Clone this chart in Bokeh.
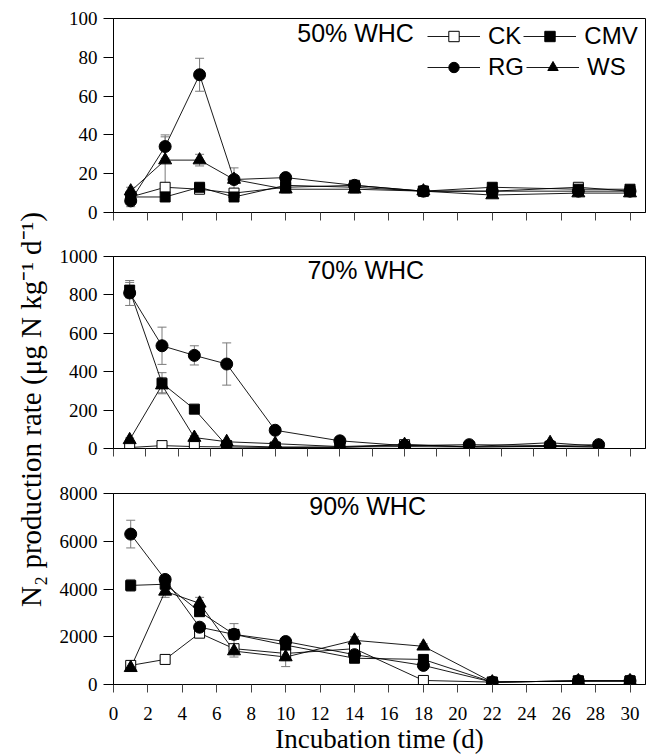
import math
from bokeh.plotting import figure
from bokeh.models import (ColumnDataSource, Range1d, Whisker, TeeHead, Label,
                          Legend, LegendItem, FixedTicker)
from bokeh.layouts import row, column
from bokeh.embed import file_html
from bokeh.resources import INLINE

# ---------------- data ----------------
days = [1, 3, 5, 7, 10, 14, 18, 22, 27, 30]
treatments = ["CK", "CMV", "RG", "WS"]

# 50% WHC
ck_50 = [8, 13, 12, 10, 13, 14, 11, 11, 13, 11]
cmv_50 = [8, 8, 13, 8, 14, 13, 11, 13, 12, 12]
rg_50 = [6, 34, 71, 17, 18, 14, 11, 11, 11, 11]
ws_50 = [11, 27, 27, 17, 12, 12, 11, 9, 10, 10]
ck_50_err = [1, 1, 1, 2, 1, 1, 1, 1, 1, 1]
cmv_50_err = [1, 1, 1, 1, 1, 1, 1, 1, 1, 1]
rg_50_err = [3, 6, 8.5, 6, 1, 1, 1, 1, 1, 1]
ws_50_err = [2, 12, 3, 2, 2, 2, 1, 1, 1, 1]

# 70% WHC
ck_70 = [5, 15, 10, 8, 5, 5, 20, 8, 10, 8]
cmv_70 = [825, 340, 205, 15, 8, 8, 10, 8, 12, 8]
rg_70 = [810, 535, 485, 440, 95, 40, 15, 20, 15, 20]
ws_70 = [45, 330, 57, 35, 25, 10, 20, 10, 30, 12]
ck_70_err = [5, 10, 5, 3, 2, 2, 5, 2, 2, 2]
cmv_70_err = [40, 55, 10, 5, 3, 3, 3, 3, 3, 3]
rg_70_err = [65, 97, 50, 110, 5, 5, 3, 3, 3, 3]
ws_70_err = [10, 40, 10, 5, 5, 3, 3, 3, 5, 3]

# 90% WHC
ck_90 = [800, 1050, 2150, 1500, 1300, 1500, 170, 100, 150, 150]
cmv_90 = [4150, 4200, 3050, 2100, 1650, 1100, 1050, 100, 150, 150]
rg_90 = [6300, 4400, 2400, 2100, 1800, 1250, 800, 100, 150, 150]
ws_90 = [700, 3900, 3400, 1400, 1150, 1850, 1600, 100, 150, 150]
ck_90_err = [100, 120, 150, 150, 550, 150, 80, 30, 30, 30]
cmv_90_err = [250, 150, 150, 150, 150, 150, 100, 30, 30, 30]
rg_90_err = [580, 150, 150, 450, 150, 150, 100, 30, 30, 30]
ws_90_err = [150, 250, 250, 250, 150, 150, 100, 30, 30, 30]

x_ticks_30 = list(range(0, 31, 2))
x_ticks_32 = list(range(0, 33, 2))
x_tick_labels = [str(t) for t in x_ticks_30]
y_ticks_50 = [0, 20, 40, 60, 80, 100]
y_ticks_70 = [0, 200, 400, 600, 800, 1000]
y_ticks_90 = [0, 2000, 4000, 6000, 8000]

panel_titles = ["50% WHC", "70% WHC", "90% WHC"]
y_title = "N\u2082 production rate (\u03bcg N kg\u207b\u00b9 d\u207b\u00b9)"
x_title = "Incubation time (d)"

# ---------------- styles ----------------
SERIF = "Liberation Serif"
SANS = "Liberation Sans"
styles = {
    "CK": dict(marker="square", size=10, fill_color="white", line_color="black", line_width=1),
    "CMV": dict(marker="square", size=10, fill_color="black", line_color="black", line_width=1),
    "RG": dict(marker="circle", size=12, fill_color="black", line_color="black", line_width=1),
    "WS": dict(marker="triangle", size=13, fill_color="black", line_color="black", line_width=1),
}
ERR_COLOR = "#7a7a7a"


def make_panel(h, b_top, b_bottom, x_end, x_ticks, y_end, y_ticks, series, errors,
               title, title_xy, show_x_labels):
    p = figure(width=593, height=h, x_range=Range1d(0, x_end), y_range=Range1d(0, y_end),
               toolbar_location=None, output_backend="svg",
               min_border_left=60, min_border_right=1,
               min_border_top=b_top, min_border_bottom=b_bottom)
    p.grid.grid_line_color = None
    p.outline_line_color = "black"
    p.outline_line_width = 1
    p.background_fill_color = "white"
    p.border_fill_color = "white"

    # axes
    p.yaxis.ticker = FixedTicker(ticks=y_ticks)
    p.yaxis.minor_tick_line_color = None
    p.yaxis.major_tick_in = 0
    p.yaxis.major_tick_out = 10
    p.yaxis.major_label_standoff = 6
    p.yaxis.major_label_text_font = SERIF
    p.yaxis.major_label_text_font_size = "19px"
    p.yaxis.major_label_text_color = "black"
    p.yaxis.axis_line_color = "black"
    p.yaxis.major_tick_line_color = "black"

    p.xaxis.ticker = FixedTicker(ticks=x_ticks)
    p.xaxis.minor_tick_line_color = None
    p.xaxis.major_tick_in = 0
    p.xaxis.major_tick_out = 8
    p.xaxis.axis_line_color = "black"
    p.xaxis.major_tick_line_color = "#444444"
    if show_x_labels:
        p.xaxis.major_label_overrides = {t: lab for t, lab in zip(x_ticks, x_tick_labels)}
        p.xaxis.major_label_text_font = SERIF
        p.xaxis.major_label_text_font_size = "19px"
        p.xaxis.major_label_text_color = "black"
        p.xaxis.major_label_standoff = 14
        p.xaxis.axis_label = x_title
        p.xaxis.axis_label_text_font = SERIF
        p.xaxis.axis_label_text_font_size = "27px"
        p.xaxis.axis_label_text_font_style = "normal"
        p.xaxis.axis_label_text_color = "black"
        p.xaxis.axis_label_standoff = 1
    else:
        p.xaxis.major_label_overrides = {t: "" for t in x_ticks}
        p.xaxis.major_label_text_font_size = "1px"
        p.xaxis.major_label_standoff = 0

    # error bars
    for name in treatments:
        xs, up, lo = [], [], []
        for d, v, e in zip(days, series[name], errors[name]):
            if e > 0:
                xs.append(d)
                up.append(v + e)
                lo.append(v - e)
        src = ColumnDataSource(dict(x=xs, upper=up, lower=lo))
        w = Whisker(base="x", upper="upper", lower="lower", source=src,
                    line_color=ERR_COLOR, line_width=1,
                    upper_head=TeeHead(size=9, line_color=ERR_COLOR, line_width=1),
                    lower_head=TeeHead(size=9, line_color=ERR_COLOR, line_width=1))
        p.add_layout(w)

    lines, marks = {}, {}
    for name in treatments:
        lines[name] = p.line(days, series[name], line_color="black", line_width=0.9)
    for name in treatments:
        marks[name] = p.scatter(days, series[name], **styles[name])

    p.add_layout(Label(x=title_xy[0], y=title_xy[1], text=title, text_align="center",
                       text_baseline="middle", text_font=SANS, text_font_size="25px",
                       text_color="black"))
    return p, lines, marks


p1, l1, m1 = make_panel(235, 18, 23, 30.9, x_ticks_30, 100, y_ticks_50,
                        {"CK": ck_50, "CMV": cmv_50, "RG": rg_50, "WS": ws_50},
                        {"CK": ck_50_err, "CMV": cmv_50_err, "RG": rg_50_err, "WS": ws_50_err},
                        panel_titles[0], (14.06, 92.5), False)
p2, _, _ = make_panel(237, 21, 24, 32.9, x_ticks_32, 1000, y_ticks_70,
                      {"CK": ck_70, "CMV": cmv_70, "RG": rg_70, "WS": ws_70},
                      {"CK": ck_70_err, "CMV": cmv_70_err, "RG": rg_70_err, "WS": ws_70_err},
                      panel_titles[1], (15.6, 932), False)
p3, _, _ = make_panel(284, 21, 72, 30.9, x_ticks_30, 8000, y_ticks_90,
                      {"CK": ck_90, "CMV": cmv_90, "RG": rg_90, "WS": ws_90},
                      {"CK": ck_90_err, "CMV": cmv_90_err, "RG": rg_90_err, "WS": ws_90_err},
                      panel_titles[2], (14.76, 7486), True)

# legend (two rows) in the top panel
def make_legend(names, loc):
    items = [LegendItem(label=n, renderers=[l1[n], m1[n]]) for n in names]
    leg = Legend(items=items, orientation="horizontal", location=loc,
                 glyph_width=53, glyph_height=26, label_standoff=8, spacing=2,
                 padding=0, margin=0, border_line_color=None,
                 background_fill_alpha=0, label_text_font=SANS,
                 label_text_font_size="24px", label_text_color="black",
                 label_height=26)
    return leg

p1.add_layout(make_legend(["CK", "CMV"], (314, 162)))
p1.add_layout(make_legend(["RG", "WS"], (314, 131)))

# y-axis title in its own narrow canvas
lab = figure(width=53, height=756, x_range=Range1d(0, 53), y_range=Range1d(0, 756),
             toolbar_location=None, output_backend="svg", min_border=0,
             x_axis_type=None, y_axis_type=None, outline_line_color=None)
lab.add_layout(Label(x=30, y=347, text=y_title, angle=math.pi / 2, text_align="center",
                     text_baseline="middle", text_font=SERIF, text_font_size="29px",
                     text_color="black"))

layout = row(lab, column(p1, p2, p3))
open("out.html", "w").write(file_html(layout, INLINE))
